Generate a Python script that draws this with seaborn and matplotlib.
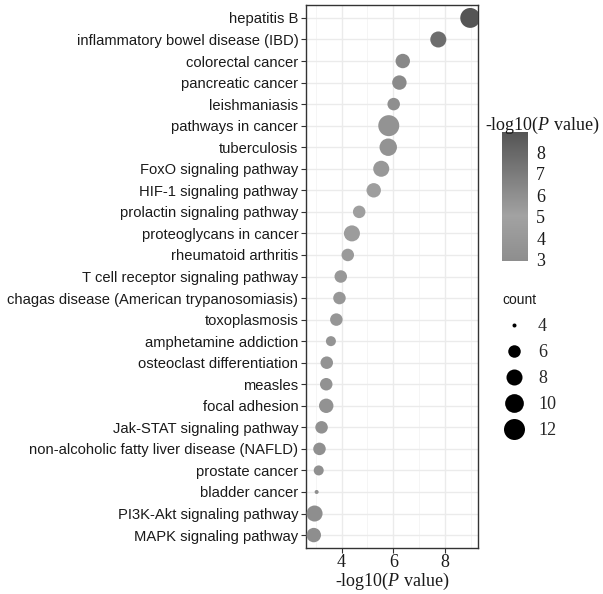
import numpy as np
import pandas as pd
import matplotlib
matplotlib.use("Agg")
import matplotlib.pyplot as plt
from matplotlib.colors import LinearSegmentedColormap, Normalize
from matplotlib.lines import Line2D
import seaborn as sns

terms = [
    "hepatitis B", "inflammatory bowel disease (IBD)", "colorectal cancer",
    "pancreatic cancer", "leishmaniasis", "pathways in cancer", "tuberculosis",
    "FoxO signaling pathway", "HIF-1 signaling pathway", "prolactin signaling pathway",
    "proteoglycans in cancer", "rheumatoid arthritis", "T cell receptor signaling pathway",
    "chagas disease (American trypanosomiasis)", "toxoplasmosis", "amphetamine addiction",
    "osteoclast differentiation", "measles", "focal adhesion", "Jak-STAT signaling pathway",
    "non-alcoholic fatty liver disease (NAFLD)", "prostate cancer", "bladder cancer",
    "PI3K-Akt signaling pathway", "MAPK signaling pathway",
]
neglogp = [8.96, 7.73, 6.36, 6.23, 6.01, 5.82, 5.80, 5.53, 5.24, 4.68, 4.40, 4.24, 3.97,
           3.92, 3.80, 3.59, 3.43, 3.41, 3.41, 3.23, 3.15, 3.12, 3.04, 2.96, 2.93]
counts = [11, 8, 7, 7, 6, 12, 9, 8, 7, 6, 8, 6, 6, 6, 6, 5, 6, 6, 7, 6, 6, 5, 4, 8, 7]
x_ticks = [4, 6, 8]
cbar_ticks = [3, 4, 5, 6, 7, 8]
legend_counts = [4, 6, 8, 10, 12]

df = pd.DataFrame({"term": terms, "neglogp": neglogp, "count": counts})

sns.set_theme(style="white")
plt.rcParams["font.family"] = ["Liberation Sans", "DejaVu Sans"]
plt.rcParams["mathtext.fontset"] = "custom"
plt.rcParams["mathtext.it"] = "Liberation Serif:italic"
plt.rcParams["mathtext.rm"] = "Liberation Serif"

W, H = 603, 594
fig = plt.figure(figsize=(W / 100, H / 100), dpi=100)
ax = fig.add_axes([306 / W, 1 - 548 / H, (478 - 306) / W, (548 - 5) / H])

cmin, cmax = 4, 12
def diam_px(c):
    return 4 + 17 * np.sqrt((c - cmin) / (cmax - cmin))
def area_pt(c):
    return (diam_px(c) * 0.72) ** 2

size_map = {c: area_pt(c) for c in sorted(set(counts) | set(legend_counts))}

cmap = LinearSegmentedColormap.from_list(
    "g", [(0.0, "#8e8e8e"), (0.35, "#a2a2a2"), (1.0, "#555555")])
vmin, vmax = min(neglogp), max(neglogp)

sns.scatterplot(data=df, x="neglogp", y="term", hue="neglogp", palette=cmap,
                hue_norm=(vmin, vmax), size="count", sizes=size_map,
                linewidth=0, alpha=1, legend=False, ax=ax, zorder=3)

ax.set_ylim(len(terms) - 0.4, -0.6)
ax.set_xlim(2.63, 9.26)
ax.set_xticks(x_ticks)
ax.set_xticks([3, 5, 7, 9], minor=True)
ax.grid(True, which="major", color="#ebebeb", linewidth=1.0, zorder=0)
ax.grid(True, which="minor", axis="x", color="#f4f4f4", linewidth=0.6, zorder=0)
ax.set_axisbelow(True)
for s in ax.spines.values():
    s.set_color("#333333")
    s.set_linewidth(1.0)
ax.tick_params(axis="both", which="major", length=3.5, width=0.8, color="#333333",
               direction="out", bottom=True, left=True)
ax.tick_params(axis="x", which="minor", length=0)
ax.tick_params(axis="y", labelsize=10.6, labelcolor="#1a1a1a", pad=2)
ax.tick_params(axis="x", labelsize=13, labelcolor="#1a1a1a", pad=1)
for lab in ax.get_xticklabels():
    lab.set_family("Liberation Serif")
ax.set_ylabel("")
ax.set_xlabel("-log10($\\it{P}$ value)", family="Liberation Serif", fontsize=13,
              labelpad=0, color="#1a1a1a")

# colorbar
cax = fig.add_axes([502 / W, 1 - 261 / H, 26 / W, (261 - 132) / H])
sm = plt.cm.ScalarMappable(norm=Normalize(vmin, vmax), cmap=cmap)
cb = fig.colorbar(sm, cax=cax, ticks=cbar_ticks)
cb.outline.set_visible(False)
cax.tick_params(axis="y", direction="in", length=5, width=0.8, color="white",
                left=True, right=True, labelsize=13, pad=6)
for lab in cax.get_yticklabels():
    lab.set_family("Liberation Serif")
    lab.set_color("#1a1a1a")
fig.text(485 / W, 1 - 125 / H, "-log10($\\it{P}$ value)", family="Liberation Serif",
         fontsize=13, va="center", ha="left", color="#1a1a1a")

# size legend
fig.text(502 / W, 1 - 300 / H, "count", fontsize=10, va="center", ha="left",
         color="#1a1a1a")
handles = [Line2D([], [], marker="o", linestyle="", color="black",
                  markersize=np.sqrt(size_map[c]), markeredgewidth=0)
           for c in legend_counts]
leg = fig.legend(handles, [str(c) for c in legend_counts], loc="upper left",
                 bbox_to_anchor=(500 / W, 1 - 318 / H), frameon=False,
                 prop={"family": "Liberation Serif", "size": 13},
                 labelspacing=0.5, handletextpad=0.5, borderaxespad=0,
                 borderpad=0, handlelength=1.6)

fig.savefig("out.png", dpi=100)
